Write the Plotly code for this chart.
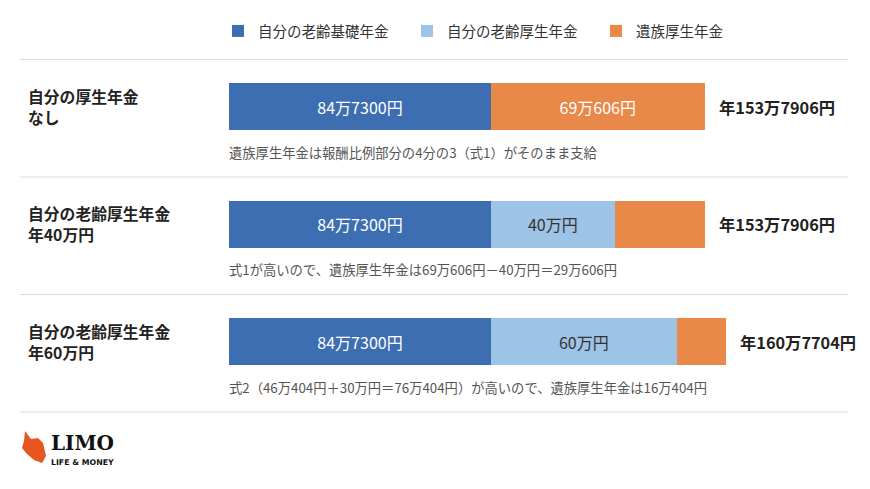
import plotly.graph_objects as go

# ---- data ----
row_label_line1 = ["自分の厚生年金", "自分の老齢厚生年金", "自分の老齢厚生年金"]
row_label_line2 = ["なし", "年40万円", "年60万円"]
basic_pension = [847300, 847300, 847300]          # 自分の老齢基礎年金
own_employee_pension = [0, 400000, 600000]        # 自分の老齢厚生年金
survivor_pension = [690606, 290606, 160404]       # 遺族厚生年金
survivor_label_shown = [True, False, False]
notes = [
    "遺族厚生年金は報酬比例部分の4分の3（式1）がそのまま支給",
    "式1が高いので、遺族厚生年金は69万606円－40万円＝29万606円",
    "式2（46万404円＋30万円＝76万404円）が高いので、遺族厚生年金は16万404円",
]
series_names = ["自分の老齢基礎年金", "自分の老齢厚生年金", "遺族厚生年金"]
colors = ["#3e6eb2", "#9dc3e6", "#e8894a"]

FONT = "Noto Sans CJK JP"
W, H = 870, 489
L, R = 229, 848


def yen(v):
    man, rest = divmod(int(v), 10000)
    return f"{man}万{rest}円" if rest else f"{man}万円"


rows = list(range(len(row_label_line1)))
totals = [a + b + c for a, b, c in zip(basic_pension, own_employee_pension, survivor_pension)]

fig = go.Figure()
series = [basic_pension, own_employee_pension, survivor_pension]
for k, (name, vals, col) in enumerate(zip(series_names, series, colors)):
    if k == 2:
        texts = [yen(v) if s else "" for v, s in zip(vals, survivor_label_shown)]
    else:
        texts = [yen(v) if v else "" for v in vals]
    fig.add_trace(go.Bar(
        y=rows, x=vals, name=name, orientation="h",
        marker=dict(color=col, line=dict(width=0)),
        width=0.4,
        text=texts, textposition="inside", insidetextanchor="middle", textangle=0,
        insidetextfont=dict(family=FONT, size=16, color="#333333" if k == 1 else "#ffffff"),
        hoverinfo="skip",
    ))


def px_x(p):
    return (p - L) / (R - L)


def px_y(p):
    return 1 - p / H


annotations = []
for i in rows:
    for line, shift in ((row_label_line1[i], 10.5), (row_label_line2[i], -10.5)):
        annotations.append(dict(
            x=px_x(26), xref="paper", y=i, yref="y", yshift=shift, text=f"<b>{line}</b>",
            xanchor="left", yanchor="middle", align="left", showarrow=False,
            font=dict(family=FONT, size=15.8, color="#222222"),
        ))
    annotations.append(dict(
        x=totals[i], xref="x", y=i, yref="y", text=f"<b>年{yen(totals[i])}</b>",
        xanchor="left", yanchor="middle", xshift=12, showarrow=False,
        font=dict(family=FONT, size=16.3, color="#222222"),
    ))
    annotations.append(dict(
        x=0, xref="x", y=i + 0.39, yref="y", text=notes[i],
        xanchor="left", yanchor="middle", showarrow=False, xshift=-2,
        font=dict(family=FONT, size=13.3, color="#555555"),
    ))

# logo text
annotations.append(dict(x=px_x(49), xref="paper", y=px_y(443), yref="paper", text="<b>LIMO</b>",
                        xanchor="left", yanchor="middle", showarrow=False,
                        font=dict(family="DejaVu Serif", size=20, color="#111111")))
annotations.append(dict(x=px_x(49), xref="paper", y=px_y(462), yref="paper", text="<b>LIFE &amp; MONEY</b>",
                        xanchor="left", yanchor="middle", showarrow=False,
                        font=dict(family="DejaVu Sans", size=7.8, color="#111111")))

shapes = []
for yy in [-0.4, 0.6, 1.6, 2.6]:
    shapes.append(dict(type="line", xref="paper", yref="y", x0=px_x(20), x1=1, y0=yy, y1=yy,
                       line=dict(color="#dddddd", width=1.2), layer="below"))

cow = [(25, 431), (31, 439), (38, 438), (43, 443), (46, 456), (42, 463), (34, 460), (27, 454), (22, 448), (24, 441)]
path = "M " + " L ".join(f"{px_x(a)},{px_y(b)}" for a, b in cow) + " Z"
shapes.append(dict(type="path", xref="paper", yref="paper", path=path,
                   fillcolor="#e8561f", line=dict(width=0)))

fig.update_layout(
    width=W, height=H,
    margin=dict(l=L, r=W - R, t=0, b=0),
    barmode="stack",
    plot_bgcolor="#ffffff", paper_bgcolor="#ffffff",
    xaxis=dict(range=[0, 2001800], visible=False, fixedrange=True),
    yaxis=dict(range=[(H - 106.5) / 117.5, -106.5 / 117.5], visible=False, fixedrange=True),
    showlegend=True,
    legend=dict(orientation="h", x=0, xanchor="left", y=px_y(31), yanchor="middle",
                indentation=-11,
                entrywidth=155, entrywidthmode="pixels", traceorder="normal",
                font=dict(family=FONT, size=14.5, color="#333333"),
                bgcolor="rgba(0,0,0,0)", borderwidth=0, itemclick=False, itemdoubleclick=False),
    annotations=annotations,
    shapes=shapes,
    font=dict(family=FONT),
)

fig.write_html("out.html", config={"displayModeBar": False},
               post_script="document.body.style.margin='0';")
